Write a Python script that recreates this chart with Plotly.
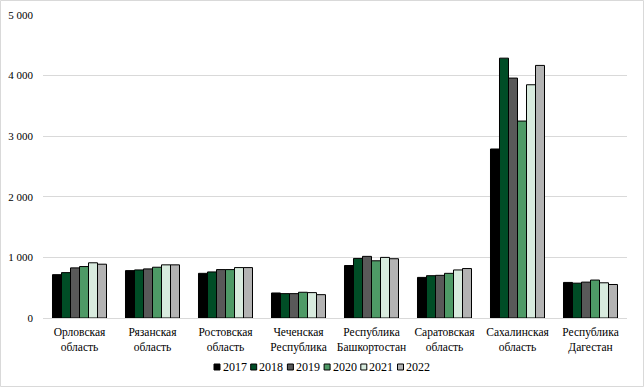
import plotly.graph_objects as go

categories = ["Орловская<br>область", "Рязанская<br>область", "Ростовская<br>область",
              "Чеченская<br>Республика", "Республика<br>Башкортостан", "Саратовская<br>область",
              "Сахалинская<br>область", "Республика<br>Дагестан"]
years = ["2017", "2018", "2019", "2020", "2021", "2022"]

v2017 = [715, 782, 737, 413, 866, 670, 2789, 587]
v2018 = [749, 793, 760, 402, 983, 698, 4288, 575]
v2019 = [827, 810, 799, 402, 1017, 704, 3959, 592]
v2020 = [849, 838, 799, 425, 944, 737, 3250, 626]
v2021 = [911, 877, 832, 419, 1000, 793, 3849, 581]
v2022 = [888, 877, 832, 385, 978, 816, 4168, 553]
series = [v2017, v2018, v2019, v2020, v2021, v2022]

colors = ["#000000", "#004d26", "#595959", "#4e9a66", "#d8ebde", "#b3b3b3"]

tick_vals = [0, 1000, 2000, 3000, 4000, 5000]
tick_text = ["0", "1 000", "2 000", "3 000", "4 000", "5 000"]

W, H = 644, 387
ml, mr, mt, mb = 43, 17, 15, 69
pw, ph = W - ml - mr, H - mt - mb


def xp(px):
    return (px - ml) / pw


def yp(py):
    return (mt + ph - py) / ph


font = "Liberation Serif"

fig = go.Figure()
for y, vals, c in zip(years, series, colors):
    fig.add_trace(go.Bar(name=y, x=categories, y=vals, marker_color=c,
                         marker_line_color="#000000", marker_line_width=1,
                         showlegend=False))

shapes = [dict(type="rect", xref="paper", yref="paper",
               x0=xp(0.5), x1=xp(W - 0.5), y0=yp(H - 0.5), y1=yp(0.5),
               line=dict(color="#d9d9d9", width=1), layer="below")]
annotations = []
# compact legend (drawn like the reference's legend)
leg_x0, leg_step, leg_cy, sq = 214, 36.7, 367, 6
for i, (y, c) in enumerate(zip(years, colors)):
    sx = leg_x0 + i * leg_step
    shapes.append(dict(type="rect", xref="paper", yref="paper",
                       x0=xp(sx), x1=xp(sx + sq), y0=yp(leg_cy + sq / 2), y1=yp(leg_cy - sq / 2),
                       fillcolor=c, line=dict(color="#000000", width=1)))
    annotations.append(dict(text=y, xref="paper", yref="paper", x=xp(sx + sq + 0.5),
                            y=yp(leg_cy), xanchor="left", yanchor="middle", showarrow=False,
                            font=dict(family=font, size=12, color="#000000")))

fig.update_layout(
    width=W, height=H,
    margin=dict(l=ml, r=mr, t=mt, b=mb, autoexpand=False),
    paper_bgcolor="white", plot_bgcolor="white",
    barmode="group", bargap=0.26, bargroupgap=0,
    font=dict(family=font, size=11, color="#000000"),
    showlegend=False,
    xaxis=dict(showgrid=False, showline=True, linecolor="#d9d9d9", linewidth=1,
               ticks="", ticklabelstandoff=3, tickfont=dict(family=font, size=11.5)),
    yaxis=dict(range=[0, 5000], tickvals=tick_vals, ticktext=tick_text,
               showgrid=True, gridcolor="#d9d9d9", gridwidth=1, zeroline=False,
               showline=False, ticks="", ticklabelstandoff=9,
               tickfont=dict(family=font, size=11)),
    shapes=shapes,
    annotations=annotations,
)

fig.write_html("out.html", config={"displayModeBar": False},
               post_script="document.body.style.margin='0';")
